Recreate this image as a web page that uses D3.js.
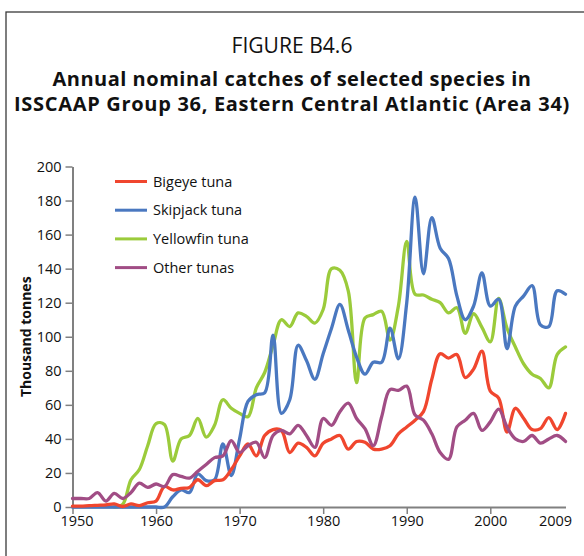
<!DOCTYPE html>
<html>
<head>
<meta charset="utf-8">
<script src="https://cdn.jsdelivr.net/npm/d3@7"></script>
<style>
  html, body { margin: 0; padding: 0; background: #fff; }
  svg { display: block; font-family: "Open Sans", "Noto Sans", sans-serif; }
</style>
</head>
<body>
<svg id="chart" width="584" height="556"></svg>
<script>
const years = d3.range(1950, 2010);

const bigeye = [0.5,0.5,0.8,1,1.2,1.8,0.3,1.8,0.8,2.5,
  3.5,12,10,11,11.5,16,12.5,15.5,16,22,
  30,37,30,42,45.5,45,32,37.5,35,30,
  37.5,40,42,34,38.5,38,34,34,36,43,
  47,51,56,75,90,87.5,89.5,76,81,91.5,
  68,64,44,58,52,45.5,46,52.5,45.5,55];

const skipjack = [0,0,0,0,0,0,0,0,0,0,
  0,0,6,10,8.5,19.5,15.5,16,37,18.5,
  40,62,66,67,101,55,63,95,86,75,
  90,105,119,104,88,78,85,85,105,87,
  120,182,137,170,152,146,124,110,118,137.5,
  118,122,93,118,124,130,107,106,127,125];

const yellowfin = [null,null,null,null,null,0,1.5,16,22,36,
  49,48.5,27,40,42,52,41,48,63,58,
  55,53,70,79,95,110,106,114,112,108,
  116,140,139,127,73,111,113,115,98,118,
  156,125,124.5,122,120,114,117,102,113.5,105.5,
  97,122.5,105,94,84,78,75.5,70,89.5,94];

const otherTunas = [5,5,5,8.5,3.5,8,5,8.5,14,11.5,
  13.5,12,19,18,17,21,25,29,30,39,
  32,36,38,29,42,45,43,48,42,35,
  52,48,56,61,52,46,36,53,69,68.5,
  71,54,51,43,32,28,47,51,55,45,
  50,57.5,47,40,38.5,42,37.5,40,42,38.5];

const seriesNames = ["Bigeye tuna", "Skipjack tuna", "Yellowfin tuna", "Other tunas"];
const seriesValues = [bigeye, skipjack, yellowfin, otherTunas];
const seriesColors = ["#F0462E", "#4A78C0", "#9BCB3B", "#A14D85"];

const yTicks = d3.range(0, 201, 20);
const xTicks = [1950, 1960, 1970, 1980, 1990, 2000];
const xEndLabel = 2009;

const titleLines = ["FIGURE B4.6",
  "Annual nominal catches of selected species in",
  "ISSCAAP Group 36, Eastern Central Atlantic (Area 34)"];
const yLabel = "Thousand tonnes";

const svg = d3.select("#chart");

// frame
svg.append("rect")
  .attr("x", 6).attr("y", 12).attr("width", 600).attr("height", 600)
  .attr("fill", "none").attr("stroke", "#3a3a3a").attr("stroke-width", 1.3);

// titles
const titleSpecs = [
  {y: 53, size: 17, weight: "normal", width: 121, fit: "size"},
  {y: 86, size: 20, weight: "bold", width: 479, fit: "spacing"},
  {y: 111, size: 20, weight: "bold", width: 556, fit: "spacing"}
];
titleLines.forEach((t, i) => {
  const s = titleSpecs[i];
  const el = svg.append("text")
    .attr("x", 292).attr("y", s.y)
    .attr("text-anchor", "middle")
    .attr("font-size", s.size).attr("font-weight", s.weight)
    .attr("fill", "#111")
    .text(t);
  const w = el.node().getComputedTextLength();
  if (s.fit === "size") {
    el.attr("font-size", (s.size * s.width / w).toFixed(2));
  } else {
    el.attr("letter-spacing", ((s.width - w) / t.length).toFixed(3));
  }
});

const x = d3.scaleLinear().domain([1950, 2009]).range([72.5, 565.5]);
const y = d3.scaleLinear().domain([0, 200]).range([507, 166.5]);

// y axis
const yAxis = svg.append("g")
  .attr("transform", `translate(${x.range()[0]},0)`)
  .call(d3.axisLeft(y).tickValues(yTicks).tickSize(7).tickPadding(4).tickSizeOuter(0));
yAxis.select(".domain").attr("stroke", "#808080").attr("stroke-width", 2);
yAxis.selectAll(".tick line").attr("stroke", "#808080").attr("stroke-width", 1.5);
yAxis.selectAll(".tick text").attr("font-size", 14.5).attr("fill", "#111")
  .attr("font-family", "'Open Sans', sans-serif");

// x axis
const xAxis = svg.append("g")
  .attr("transform", `translate(0,${y(0)})`)
  .call(d3.axisBottom(x).tickValues(xTicks).tickFormat(d3.format("d")).tickSize(7).tickPadding(2).tickSizeOuter(0));
xAxis.select(".domain").attr("stroke", "#808080").attr("stroke-width", 2);
xAxis.selectAll(".tick line").attr("stroke", "#808080").attr("stroke-width", 1.5);
xAxis.selectAll(".tick text").attr("font-size", 14.5).attr("fill", "#111")
  .attr("font-family", "'Open Sans', sans-serif")
  .attr("dx", d => d === 1950 ? 4 : 0);
svg.append("text")
  .attr("x", x(xEndLabel) - 10).attr("y", y(0) + 9).attr("dy", "0.71em")
  .attr("text-anchor", "middle").attr("font-size", 14.5).attr("fill", "#111")
  .text(String(xEndLabel));

// y label
svg.append("text")
  .attr("transform", `translate(31,${(y(0) + y(200)) / 2}) rotate(-90)`)
  .attr("text-anchor", "middle").attr("font-size", 14).attr("font-weight", "bold")
  .attr("fill", "#111")
  .text(yLabel);

// lines
const line = d3.line()
  .x(d => x(d[0])).y(d => y(d[1]))
  .curve(d3.curveCatmullRom.alpha(0.5));

const drawOrder = [2, 1, 0, 3];
drawOrder.forEach(i => {
  const data = years.map((yr, k) => [yr, seriesValues[i][k]]).filter(d => d[1] !== null);
  svg.append("path")
    .datum(data)
    .attr("d", line)
    .attr("fill", "none")
    .attr("stroke", seriesColors[i])
    .attr("stroke-width", 3.3)
    .attr("stroke-linejoin", "round")
    .attr("stroke-linecap", "round");
});

// legend
const legend = svg.append("g");
seriesNames.forEach((name, i) => {
  const ly = 181.5 + i * 28.7;
  legend.append("line")
    .attr("x1", 115).attr("x2", 147).attr("y1", ly).attr("y2", ly)
    .attr("stroke", seriesColors[i]).attr("stroke-width", 3);
  legend.append("text")
    .attr("x", 153).attr("y", ly + 5)
    .attr("font-size", 14.5).attr("fill", "#111")
    .text(name);
});
</script>
</body>
</html>
